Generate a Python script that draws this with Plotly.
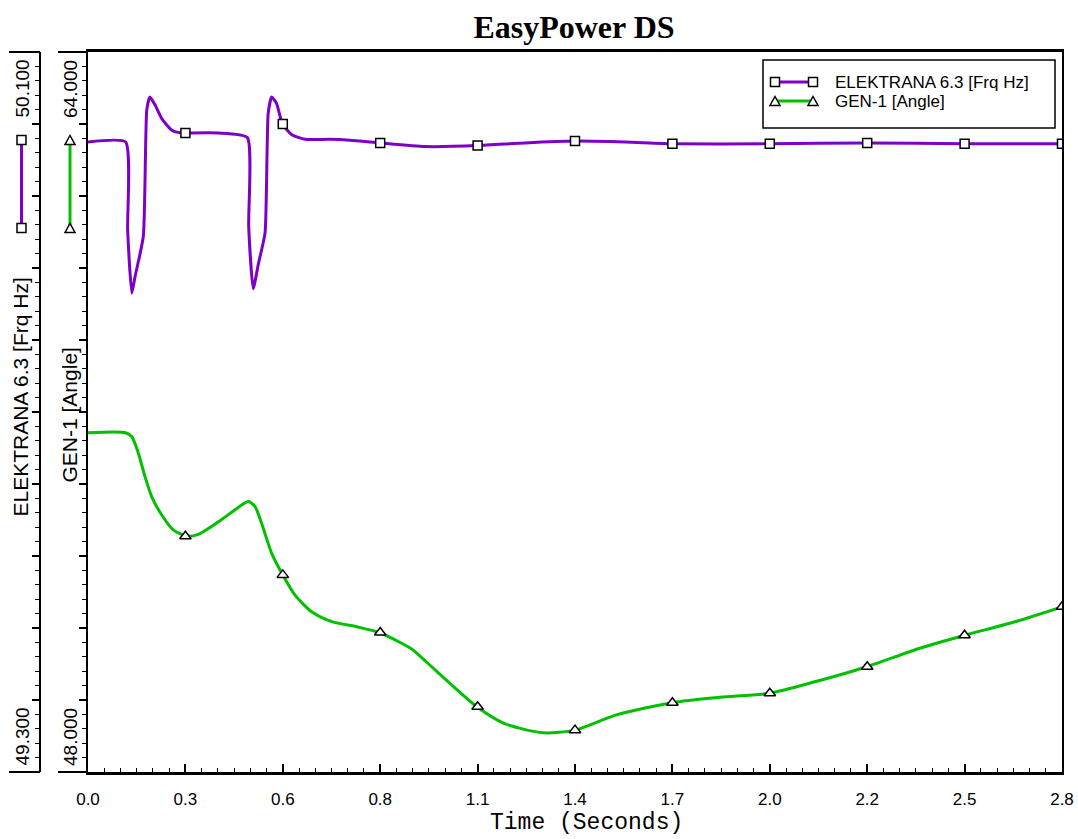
import plotly.graph_objects as go

W, H = 1078, 839

# ---------------- data ----------------
freq_t = [0.000, 0.108, 0.114, 0.126, 0.135, 0.159, 0.169, 0.178, 0.193, 0.212,
          0.241, 0.269, 0.284, 0.375, 0.458, 0.462, 0.475, 0.490, 0.509, 0.518,
          0.528, 0.542, 0.559, 0.586, 0.624, 0.694, 0.753, 0.840, 0.968, 1.120,
          1.256, 1.400, 1.544, 1.680, 1.960, 2.240, 2.520, 2.800]
freq_hz = [50.000, 50.000, 49.902, 49.832, 49.850, 49.895, 50.036, 50.050, 50.041, 50.026,
           50.013, 50.010, 50.010, 50.010, 50.005, 49.906, 49.837, 49.865, 49.899, 50.032,
           50.050, 50.043, 50.020, 50.008, 50.003, 50.003, 50.002, 49.999, 49.995, 49.996,
           49.999, 50.001, 50.000, 49.998, 49.998, 49.999, 49.998, 49.998]

angle_t = [0.000, 0.108, 0.126, 0.145, 0.164, 0.183, 0.212, 0.245, 0.284, 0.317,
           0.375, 0.432, 0.461, 0.480, 0.499, 0.528, 0.560, 0.595, 0.643, 0.701,
           0.777, 0.837, 0.892, 0.931, 0.972, 1.046, 1.118, 1.196, 1.308, 1.399,
           1.519, 1.679, 1.817, 1.958, 2.092, 2.239, 2.391, 2.521, 2.665, 2.800]
angle_deg = [55.54, 55.54, 55.45, 55.08, 54.56, 54.12, 53.71, 53.38, 53.24, 53.28,
             53.56, 53.88, 54.01, 53.90, 53.53, 52.86, 52.38, 51.93, 51.56, 51.34,
             51.22, 51.10, 50.90, 50.73, 50.45, 49.93, 49.45, 49.08, 48.87, 48.93,
             49.27, 49.54, 49.66, 49.75, 50.01, 50.34, 50.75, 51.04, 51.34, 51.67]

marker_t = [0.28, 0.56, 0.84, 1.12, 1.40, 1.68, 1.96, 2.24, 2.52, 2.80]
freq_marker = [50.010, 50.020, 49.999, 49.996, 50.001, 49.998, 49.998, 49.999, 49.998, 49.998]
angle_marker = [53.24, 52.38, 51.10, 49.45, 48.93, 49.54, 49.75, 50.34, 51.04, 51.67]

x_tickvals = [0.0, 0.28, 0.56, 0.84, 1.12, 1.40, 1.68, 1.96, 2.24, 2.52, 2.80]
x_ticktext = ["0.0", "0.3", "0.6", "0.8", "1.1", "1.4", "1.7", "2.0", "2.2", "2.5", "2.8"]

freq_range = [49.3, 50.1]
angle_range = [48.0, 64.0]
freq_labels = ["49.300", "50.100"]
angle_labels = ["48.000", "64.000"]

FREQ_NAME = "ELEKTRANA 6.3 [Frq Hz]"
ANGLE_NAME = "GEN-1 [Angle]"

PURPLE = "#7E00C8"
GREEN = "#00C000"
SANS = "Liberation Sans, Arial, sans-serif"


def PX(x):
    return x / W


def PY(y):
    return 1 - y / H


fig = go.Figure()

fig.add_trace(go.Scatter(x=freq_t, y=freq_hz, yaxis="y2", mode="lines", name=FREQ_NAME,
                         line=dict(color=PURPLE, width=3, shape="spline", smoothing=0.5),
                         showlegend=False, hoverinfo="skip"))
fig.add_trace(go.Scatter(x=marker_t, y=freq_marker, yaxis="y2", mode="markers", name=FREQ_NAME,
                         marker=dict(symbol="square", size=9, color="white",
                                     line=dict(color="black", width=1.5)),
                         showlegend=False))
fig.add_trace(go.Scatter(x=angle_t, y=angle_deg, yaxis="y", mode="lines", name=ANGLE_NAME,
                         line=dict(color=GREEN, width=3, shape="spline", smoothing=0.7),
                         showlegend=False, hoverinfo="skip"))
fig.add_trace(go.Scatter(x=marker_t, y=angle_marker, yaxis="y", mode="markers", name=ANGLE_NAME,
                         marker=dict(symbol="triangle-up", size=10, color="white",
                                     line=dict(color="black", width=1.5)),
                         showlegend=False))

x_dom = [PX(88), PX(1062)]
y_dom = [PY(772), PY(52)]

fig.update_layout(
    width=W, height=H, autosize=False,
    margin=dict(l=0, r=0, t=0, b=0, pad=0, autoexpand=False),
    paper_bgcolor="white", plot_bgcolor="white",
    showlegend=False,
    title=dict(text="EasyPower DS", x=PX(574), xanchor="center", y=PY(27), yanchor="middle",
               font=dict(family="Liberation Serif, Times New Roman, serif", size=32,
                         color="black", weight="bold")),
    xaxis=dict(domain=x_dom, range=[0, 2.8], tickvals=x_tickvals, ticktext=x_ticktext,
               automargin=False,
               ticks="inside", ticklen=8, tickwidth=1.5, tickcolor="black",
               minor=dict(tick0=0, dtick=0.28 / 6, ticks="inside", ticklen=4,
                          tickwidth=1, tickcolor="black"),
               showline=True, linecolor="black", linewidth=2.5, mirror=True,
               showgrid=False, zeroline=False,
               tickfont=dict(family=SANS, size=17, color="black"),
               ticklabelstandoff=10),
    yaxis=dict(domain=y_dom, range=angle_range, anchor="x", side="left", automargin=False,
               tick0=48, dtick=1.6, ticks="outside", ticklen=7, tickwidth=1.5, tickcolor="black",
               minor=dict(tick0=48, dtick=0.32, ticks="outside", ticklen=4,
                          tickwidth=1, tickcolor="black"),
               showline=True, linecolor="black", linewidth=2, mirror=True,
               showticklabels=False, showgrid=False, zeroline=False),
    yaxis2=dict(domain=y_dom, range=freq_range, overlaying="y", anchor="free",
                position=PX(40), side="left", automargin=False, autoshift=False,
                tick0=49.3, dtick=0.08, ticks="outside", ticklen=7, tickwidth=1.5,
                tickcolor="black",
                minor=dict(tick0=49.3, dtick=0.016, ticks="outside", ticklen=4,
                           tickwidth=1, tickcolor="black"),
                showline=True, linecolor="black", linewidth=2,
                showticklabels=False, showgrid=False, zeroline=False),
)

shapes = []
# caps at the ends of the two left axes
for (xa, xb) in [(9, 40), (58, 88)]:
    for yy in (52, 772):
        shapes.append(dict(type="line", xref="paper", yref="paper",
                           x0=PX(xa), x1=PX(xb), y0=PY(yy), y1=PY(yy),
                           line=dict(color="black", width=2)))


def square(cx, cy, s=9):
    return dict(type="rect", xref="paper", yref="paper",
                x0=PX(cx - s / 2), x1=PX(cx + s / 2), y0=PY(cy + s / 2), y1=PY(cy - s / 2),
                fillcolor="white", line=dict(color="black", width=1.5), layer="above")


def triangle(cx, cy, s=10):
    h = s * 0.9
    p = "M {} {} L {} {} L {} {} Z".format(PX(cx - s / 2), PY(cy + h / 2),
                                          PX(cx + s / 2), PY(cy + h / 2),
                                          PX(cx), PY(cy - h / 2))
    return dict(type="path", xref="paper", yref="paper", path=p,
                fillcolor="white", line=dict(color="black", width=1.5), layer="above")


# series indicators beside the axes
shapes.append(dict(type="line", xref="paper", yref="paper", x0=PX(21.5), x1=PX(21.5),
                   y0=PY(140), y1=PY(228), line=dict(color=PURPLE, width=3)))
shapes.append(square(21.5, 140))
shapes.append(square(21.5, 228))
shapes.append(dict(type="line", xref="paper", yref="paper", x0=PX(70), x1=PX(70),
                   y0=PY(140), y1=PY(228), line=dict(color=GREEN, width=3)))
shapes.append(triangle(70, 140))
shapes.append(triangle(70, 228))

# legend box
shapes.append(dict(type="rect", xref="paper", yref="paper", x0=PX(763), x1=PX(1055),
                   y0=PY(128), y1=PY(60), line=dict(color="black", width=1.5),
                   fillcolor="white", layer="above"))
shapes.append(dict(type="line", xref="paper", yref="paper", x0=PX(775), x1=PX(813),
                   y0=PY(82), y1=PY(82), line=dict(color=PURPLE, width=3), layer="above"))
shapes.append(square(775, 82))
shapes.append(square(813, 82))
shapes.append(dict(type="line", xref="paper", yref="paper", x0=PX(775), x1=PX(813),
                   y0=PY(101), y1=PY(101), line=dict(color=GREEN, width=3), layer="above"))
shapes.append(triangle(775, 101))
shapes.append(triangle(813, 101))

fig.update_layout(shapes=shapes)

ann = []


def txt(text, x, y, size, angle=0, family=SANS, xanchor="center"):
    ann.append(dict(text=text, x=PX(x), y=PY(y), xref="paper", yref="paper",
                    xanchor=xanchor, yanchor="middle", showarrow=False, textangle=angle,
                    font=dict(family=family, size=size, color="black")))


txt(freq_labels[1], 21.5, 89, 19, -90)
txt(freq_labels[0], 21.5, 737, 19, -90)
txt(angle_labels[1], 70, 89, 19, -90)
txt(angle_labels[0], 70, 737, 19, -90)
txt(FREQ_NAME, 20.5, 397, 21, -90)
txt(ANGLE_NAME, 69.5, 415, 21, -90)
txt("Time (Seconds)", 586, 823, 23, 0, family="Liberation Mono, Courier New, monospace")
txt(FREQ_NAME, 833, 82, 17, 0, xanchor="left")
txt(ANGLE_NAME, 833, 101, 17, 0, xanchor="left")

fig.update_layout(annotations=ann)

fig.write_html(
    "out.html",
    config={"displayModeBar": False},
    post_script="document.body.style.margin='0px';document.body.style.overflow='hidden';",
)
